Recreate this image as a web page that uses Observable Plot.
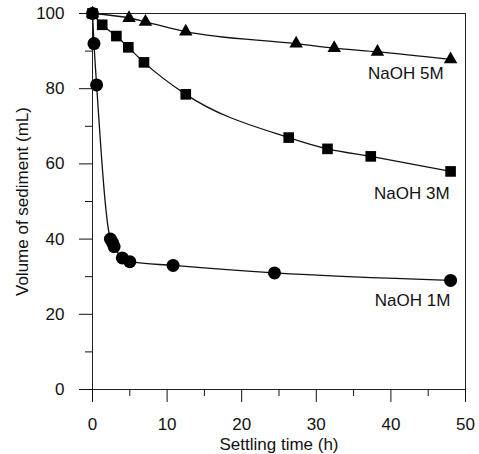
<!DOCTYPE html>
<html>
<head>
<meta charset="utf-8">
<script src="https://cdn.jsdelivr.net/npm/d3@7"></script>
<script src="https://cdn.jsdelivr.net/npm/@observablehq/plot@0.6"></script>
<style>
  html, body { margin: 0; padding: 0; background: white; }
</style>
</head>
<body>
<div id="chart"></div>
<script>
// NaOH 1M (circles)
const t1 = [0, 0.2, 0.55, 2.4, 2.7, 2.9, 4, 5, 10.8, 24.4, 48];
const v1 = [100, 92, 81, 40, 39, 38, 35, 34, 33, 31, 29];
// NaOH 3M (squares)
const t3 = [0, 1.3, 3.2, 4.8, 6.9, 12.5, 26.3, 31.5, 37.3, 48];
const v3 = [100, 97, 94, 91, 87, 78.5, 67, 64, 62, 58];
// NaOH 5M (triangles)
const t5 = [0, 4.9, 7.1, 12.5, 27.3, 32.4, 38.2, 48];
const v5 = [100, 98.8, 97.8, 95.2, 92, 90.8, 89.8, 87.8];

const seriesNames = ["NaOH 1M", "NaOH 3M", "NaOH 5M"];
const labelX = [42.9, 42.8, 42];
const labelY = [23.7, 52.1, 84];

const xMajor = [0, 10, 20, 30, 40, 50];
const xMinor = [5, 15, 25, 35, 45];
const yMajor = [0, 20, 40, 60, 80, 100];
const yMinor = [10, 30, 50, 70, 90];

const toRows = (ts, vs) => ts.map((t, i) => ({t, v: vs[i]}));
const s1 = toRows(t1, v1);
const s3 = toRows(t3, v3);
const s5 = toRows(t5, v5);
const labels = seriesNames.map((name, i) => ({name, x: labelX[i], y: labelY[i]}));

const chart = Plot.plot({
  width: 479,
  height: 454,
  marginLeft: 92,
  marginRight: 14,
  marginTop: 13,
  marginBottom: 65,
  x: {domain: [0, 50]},
  y: {domain: [0, 100]},
  style: {fontFamily: "'Liberation Sans', Arial, sans-serif", fontSize: "17px", background: "white", color: "#111"},
  marks: [
    Plot.frame({stroke: "#222"}),
    Plot.axisX({ticks: xMajor, tickSize: 13, tickPadding: 15, tickFormat: d => String(d), label: null}),
    Plot.axisX({ticks: [], label: "Settling time (h)", labelArrow: "none", labelAnchor: "center", labelOffset: 60, dx: -5}),
    Plot.axisX({ticks: xMinor, tickSize: 7, tickFormat: () => "", label: null}),
    Plot.axisY({ticks: yMajor, tickSize: 13, tickPadding: 15, tickFormat: d => String(d), label: "Volume of sediment (mL)", labelArrow: "none", labelAnchor: "center", labelOffset: 77}),
    Plot.axisY({ticks: yMinor, tickSize: 7, tickFormat: () => "", label: null}),
    Plot.line(s1, {x: "t", y: "v", curve: "monotone-x", stroke: "#111", strokeWidth: 1.3}),
    Plot.line(s3, {x: "t", y: "v", curve: "monotone-x", stroke: "#111", strokeWidth: 1.3}),
    Plot.line(s5, {x: "t", y: "v", curve: "monotone-x", stroke: "#111", strokeWidth: 1.3}),
    Plot.dot(s1, {x: "t", y: "v", symbol: "circle", r: 6.5, fill: "black", stroke: "none"}),
    Plot.dot(s3, {x: "t", y: "v", symbol: "square", r: 6, fill: "black", stroke: "none"}),
    Plot.dot(s5, {x: "t", y: "v", symbol: "triangle", r: 5, fill: "black", stroke: "none"}),
    Plot.text(labels, {x: "x", y: "y", text: "name", fontSize: 17, fill: "#111"})
  ]
});
document.getElementById("chart").appendChild(chart);
</script>
</body>
</html>
